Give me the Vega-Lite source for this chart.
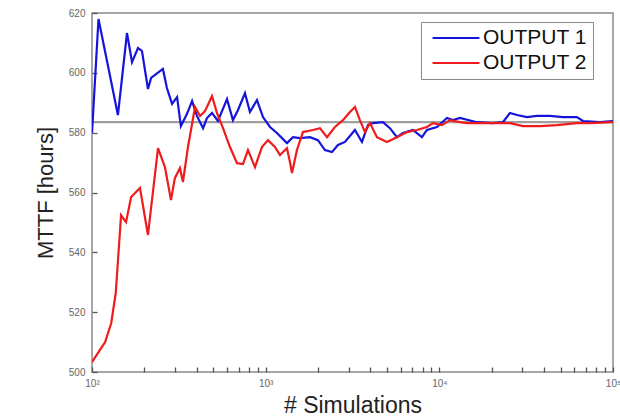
{
  "$schema": "https://vega.github.io/schema/vega-lite/v6.json",
  "width": 521,
  "height": 359,
  "autosize": "none",
  "padding": {"left": 92, "top": 13, "right": 7, "bottom": 47},
  "background": "white",
  "config": {
    "font": "Liberation Sans",
    "view": {"stroke": "#8a8a8a", "strokeWidth": 1.5}
  },
  "datasets": {
    "runs": [
      {"series": "MTTF ref", "n": 100, "mttf": 583.5},
      {"series": "MTTF ref", "n": 100000, "mttf": 583.5},
      {"series": "OUTPUT 1", "n": 100, "mttf": 579.9},
      {"series": "OUTPUT 1", "n": 109, "mttf": 618.0},
      {"series": "OUTPUT 1", "n": 141, "mttf": 585.9},
      {"series": "OUTPUT 1", "n": 159, "mttf": 613.3},
      {"series": "OUTPUT 1", "n": 170, "mttf": 603.6},
      {"series": "OUTPUT 1", "n": 184, "mttf": 608.3},
      {"series": "OUTPUT 1", "n": 194, "mttf": 607.3},
      {"series": "OUTPUT 1", "n": 210, "mttf": 594.6},
      {"series": "OUTPUT 1", "n": 219, "mttf": 598.3},
      {"series": "OUTPUT 1", "n": 256, "mttf": 601.3},
      {"series": "OUTPUT 1", "n": 270, "mttf": 594.9},
      {"series": "OUTPUT 1", "n": 289, "mttf": 589.6},
      {"series": "OUTPUT 1", "n": 309, "mttf": 591.9},
      {"series": "OUTPUT 1", "n": 325, "mttf": 582.2},
      {"series": "OUTPUT 1", "n": 352, "mttf": 586.2},
      {"series": "OUTPUT 1", "n": 377, "mttf": 590.6},
      {"series": "OUTPUT 1", "n": 402, "mttf": 585.6},
      {"series": "OUTPUT 1", "n": 436, "mttf": 581.5},
      {"series": "OUTPUT 1", "n": 459, "mttf": 584.9},
      {"series": "OUTPUT 1", "n": 491, "mttf": 586.6},
      {"series": "OUTPUT 1", "n": 531, "mttf": 583.9},
      {"series": "OUTPUT 1", "n": 599, "mttf": 591.2},
      {"series": "OUTPUT 1", "n": 648, "mttf": 584.2},
      {"series": "OUTPUT 1", "n": 693, "mttf": 587.6},
      {"series": "OUTPUT 1", "n": 760, "mttf": 593.2},
      {"series": "OUTPUT 1", "n": 812, "mttf": 586.9},
      {"series": "OUTPUT 1", "n": 891, "mttf": 590.9},
      {"series": "OUTPUT 1", "n": 965, "mttf": 585.2},
      {"series": "OUTPUT 1", "n": 1059, "mttf": 581.9},
      {"series": "OUTPUT 1", "n": 1161, "mttf": 579.9},
      {"series": "OUTPUT 1", "n": 1326, "mttf": 576.5},
      {"series": "OUTPUT 1", "n": 1436, "mttf": 578.5},
      {"series": "OUTPUT 1", "n": 1576, "mttf": 578.2},
      {"series": "OUTPUT 1", "n": 1799, "mttf": 578.5},
      {"series": "OUTPUT 1", "n": 2000, "mttf": 577.5},
      {"series": "OUTPUT 1", "n": 2195, "mttf": 574.2},
      {"series": "OUTPUT 1", "n": 2408, "mttf": 573.5},
      {"series": "OUTPUT 1", "n": 2608, "mttf": 575.9},
      {"series": "OUTPUT 1", "n": 2861, "mttf": 576.9},
      {"series": "OUTPUT 1", "n": 3267, "mttf": 580.9},
      {"series": "OUTPUT 1", "n": 3584, "mttf": 576.9},
      {"series": "OUTPUT 1", "n": 3881, "mttf": 582.5},
      {"series": "OUTPUT 1", "n": 4147, "mttf": 583.2},
      {"series": "OUTPUT 1", "n": 4735, "mttf": 583.5},
      {"series": "OUTPUT 1", "n": 5195, "mttf": 581.5},
      {"series": "OUTPUT 1", "n": 5700, "mttf": 578.5},
      {"series": "OUTPUT 1", "n": 6172, "mttf": 579.9},
      {"series": "OUTPUT 1", "n": 7047, "mttf": 580.9},
      {"series": "OUTPUT 1", "n": 7940, "mttf": 578.5},
      {"series": "OUTPUT 1", "n": 8485, "mttf": 580.9},
      {"series": "OUTPUT 1", "n": 9688, "mttf": 581.9},
      {"series": "OUTPUT 1", "n": 11060, "mttf": 584.9},
      {"series": "OUTPUT 1", "n": 11980, "mttf": 584.2},
      {"series": "OUTPUT 1", "n": 13140, "mttf": 584.9},
      {"series": "OUTPUT 1", "n": 16460, "mttf": 583.5},
      {"series": "OUTPUT 1", "n": 20350, "mttf": 583.2},
      {"series": "OUTPUT 1", "n": 23240, "mttf": 583.5},
      {"series": "OUTPUT 1", "n": 25500, "mttf": 586.6},
      {"series": "OUTPUT 1", "n": 27980, "mttf": 585.9},
      {"series": "OUTPUT 1", "n": 31940, "mttf": 585.2},
      {"series": "OUTPUT 1", "n": 36470, "mttf": 585.6},
      {"series": "OUTPUT 1", "n": 43330, "mttf": 585.6},
      {"series": "OUTPUT 1", "n": 51460, "mttf": 585.2},
      {"series": "OUTPUT 1", "n": 61970, "mttf": 585.2},
      {"series": "OUTPUT 1", "n": 67100, "mttf": 583.9},
      {"series": "OUTPUT 1", "n": 84060, "mttf": 583.5},
      {"series": "OUTPUT 1", "n": 100000, "mttf": 583.9},
      {"series": "OUTPUT 2", "n": 100, "mttf": 503.3},
      {"series": "OUTPUT 2", "n": 119, "mttf": 510.0},
      {"series": "OUTPUT 2", "n": 129, "mttf": 516.3},
      {"series": "OUTPUT 2", "n": 137, "mttf": 526.4},
      {"series": "OUTPUT 2", "n": 147, "mttf": 552.4},
      {"series": "OUTPUT 2", "n": 157, "mttf": 550.1},
      {"series": "OUTPUT 2", "n": 168, "mttf": 558.5},
      {"series": "OUTPUT 2", "n": 189, "mttf": 561.5},
      {"series": "OUTPUT 2", "n": 210, "mttf": 545.8},
      {"series": "OUTPUT 2", "n": 240, "mttf": 574.8},
      {"series": "OUTPUT 2", "n": 263, "mttf": 568.5},
      {"series": "OUTPUT 2", "n": 285, "mttf": 557.5},
      {"series": "OUTPUT 2", "n": 300, "mttf": 564.8},
      {"series": "OUTPUT 2", "n": 321, "mttf": 568.2},
      {"series": "OUTPUT 2", "n": 334, "mttf": 563.5},
      {"series": "OUTPUT 2", "n": 357, "mttf": 575.2},
      {"series": "OUTPUT 2", "n": 392, "mttf": 588.6},
      {"series": "OUTPUT 2", "n": 419, "mttf": 585.6},
      {"series": "OUTPUT 2", "n": 447, "mttf": 587.2},
      {"series": "OUTPUT 2", "n": 491, "mttf": 592.2},
      {"series": "OUTPUT 2", "n": 524, "mttf": 586.6},
      {"series": "OUTPUT 2", "n": 568, "mttf": 581.5},
      {"series": "OUTPUT 2", "n": 623, "mttf": 575.2},
      {"series": "OUTPUT 2", "n": 684, "mttf": 569.8},
      {"series": "OUTPUT 2", "n": 740, "mttf": 569.5},
      {"series": "OUTPUT 2", "n": 791, "mttf": 574.2},
      {"series": "OUTPUT 2", "n": 868, "mttf": 568.5},
      {"series": "OUTPUT 2", "n": 952, "mttf": 575.2},
      {"series": "OUTPUT 2", "n": 1031, "mttf": 577.5},
      {"series": "OUTPUT 2", "n": 1131, "mttf": 575.2},
      {"series": "OUTPUT 2", "n": 1209, "mttf": 572.5},
      {"series": "OUTPUT 2", "n": 1326, "mttf": 574.8},
      {"series": "OUTPUT 2", "n": 1380, "mttf": 570.2},
      {"series": "OUTPUT 2", "n": 1417, "mttf": 566.5},
      {"series": "OUTPUT 2", "n": 1514, "mttf": 574.2},
      {"series": "OUTPUT 2", "n": 1639, "mttf": 580.2},
      {"series": "OUTPUT 2", "n": 1872, "mttf": 580.9},
      {"series": "OUTPUT 2", "n": 2054, "mttf": 581.5},
      {"series": "OUTPUT 2", "n": 2254, "mttf": 578.5},
      {"series": "OUTPUT 2", "n": 2506, "mttf": 581.9},
      {"series": "OUTPUT 2", "n": 2786, "mttf": 584.2},
      {"series": "OUTPUT 2", "n": 3057, "mttf": 586.9},
      {"series": "OUTPUT 2", "n": 3267, "mttf": 588.6},
      {"series": "OUTPUT 2", "n": 3490, "mttf": 584.2},
      {"series": "OUTPUT 2", "n": 3729, "mttf": 580.2},
      {"series": "OUTPUT 2", "n": 3986, "mttf": 583.2},
      {"series": "OUTPUT 2", "n": 4372, "mttf": 578.5},
      {"series": "OUTPUT 2", "n": 4993, "mttf": 576.9},
      {"series": "OUTPUT 2", "n": 5700, "mttf": 578.5},
      {"series": "OUTPUT 2", "n": 6508, "mttf": 580.2},
      {"series": "OUTPUT 2", "n": 7431, "mttf": 580.9},
      {"series": "OUTPUT 2", "n": 8485, "mttf": 581.9},
      {"series": "OUTPUT 2", "n": 9190, "mttf": 583.2},
      {"series": "OUTPUT 2", "n": 10350, "mttf": 582.5},
      {"series": "OUTPUT 2", "n": 11510, "mttf": 584.2},
      {"series": "OUTPUT 2", "n": 13140, "mttf": 583.5},
      {"series": "OUTPUT 2", "n": 14420, "mttf": 583.2},
      {"series": "OUTPUT 2", "n": 17820, "mttf": 583.2},
      {"series": "OUTPUT 2", "n": 22340, "mttf": 583.2},
      {"series": "OUTPUT 2", "n": 25500, "mttf": 583.2},
      {"series": "OUTPUT 2", "n": 30290, "mttf": 582.2},
      {"series": "OUTPUT 2", "n": 37950, "mttf": 582.2},
      {"series": "OUTPUT 2", "n": 47550, "mttf": 582.5},
      {"series": "OUTPUT 2", "n": 61970, "mttf": 583.2},
      {"series": "OUTPUT 2", "n": 73620, "mttf": 583.2},
      {"series": "OUTPUT 2", "n": 100000, "mttf": 583.5}
    ]
  },
  "data": {"name": "runs"},
  "mark": {"type": "line", "strokeWidth": 2.2, "clip": true},
  "encoding": {
    "x": {"field": "n", "type": "quantitative", "scale": {"type": "log", "domain": [100, 100000], "nice": false},
      "axis": {"title": "# Simulations", "titleFontSize": 23, "titleFontWeight": "normal", "titleColor": "#222222", "titlePadding": 6,
        "grid": false, "domain": false, "tickSize": -5, "tickColor": "#555555", "tickWidth": 1.3,
        "values": [100,200,300,400,500,600,700,800,900,1000,2000,3000,4000,5000,6000,7000,8000,9000,10000,20000,30000,40000,50000,60000,70000,80000,90000,100000],
        "labelExpr": "datum.value == 100 ? '10²' : datum.value == 1000 ? '10³' : datum.value == 10000 ? '10⁴' : datum.value == 100000 ? '10⁵' : ''",
        "labelColor": "#666666", "labelFontSize": 10, "labelPadding": 11, "labelFlush": false}},
    "y": {"field": "mttf", "type": "quantitative", "scale": {"domain": [500, 620], "nice": false},
      "axis": {"title": "MTTF [hours]", "titleFontSize": 22, "titleFontWeight": "normal", "titleColor": "#222222", "titlePadding": 11,
        "grid": false, "domain": false, "tickSize": -5, "tickColor": "#555555", "tickWidth": 1.3,
        "values": [500,520,540,560,580,600,620], "labelColor": "#666666", "labelFontSize": 10, "labelPadding": 12}},
    "color": {"field": "series", "type": "nominal",
      "scale": {"domain": ["MTTF ref", "OUTPUT 1", "OUTPUT 2"], "range": ["#a0a0a0", "#1414dc", "#ee1c1c"]},
      "legend": {"title": null, "values": ["OUTPUT 1", "OUTPUT 2"], "orient": "none", "legendX": 329, "legendY": 9, "symbolType": "stroke", "symbolSize": 2200, "symbolStrokeWidth": 2.2, "symbolOffset": 4, "clipHeight": 20, "labelFontSize": 21, "labelColor": "#111111", "strokeColor": "#8a8a8a", "fillColor": "white", "padding": 6, "rowPadding": 4, "labelOffset": 2}}
  }
}
